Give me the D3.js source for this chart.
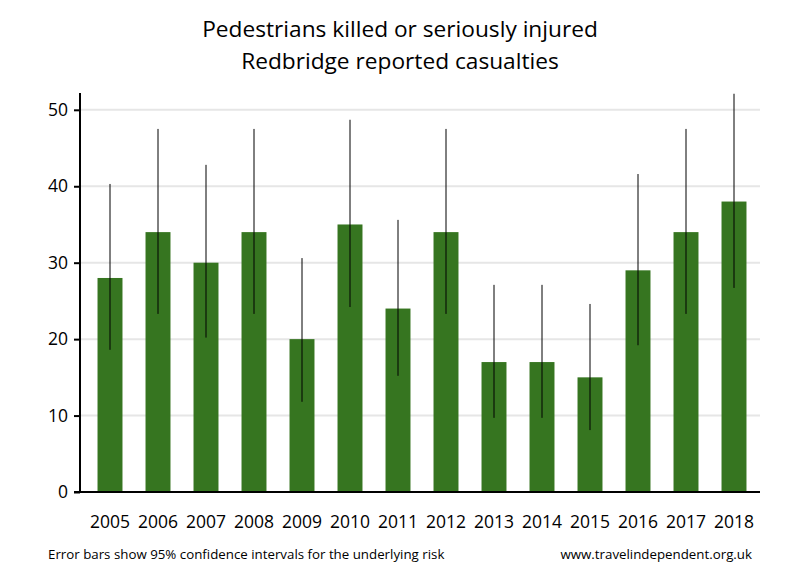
<!DOCTYPE html>
<html>
<head>
<meta charset="utf-8">
<script src="https://cdn.jsdelivr.net/npm/d3@7"></script>
<style>
  body { margin: 0; background: #fff; }
  text { font-family: "Open Sans", "Noto Sans", sans-serif; fill: #000; }
</style>
</head>
<body>
<div id="canvas"></div>
<script>
"use strict"

// years along the bottom
let years = ["2005","2006","2007","2008","2009","2010","2011","2012","2013","2014","2015","2016","2017","2018"];
// casualties per year
let casualties = [28, 34, 30, 34, 20, 35, 24, 34, 17, 17, 15, 29, 34, 38];
// 95% confidence interval ends
let ciLow  = [18.6, 23.3, 20.2, 23.3, 11.8, 24.2, 15.2, 23.3, 9.7, 9.7, 8.1, 19.2, 23.3, 26.7];
let ciHigh = [40.3, 47.5, 42.8, 47.5, 30.6, 48.7, 35.6, 47.5, 27.1, 27.1, 24.6, 41.6, 47.5, 52.1];
let yTicks = [0, 10, 20, 30, 40, 50];

let width = 800, height = 580;

let drawing = d3.select("#canvas")
    .append("svg")
    .attr("width", width)
    .attr("height", height);

let x = d3.scaleBand()
    .domain(years)
    .range([86, 758])
    .paddingInner(0.48)
    .paddingOuter(0.24);

let y = d3.scaleLinear()
    .domain([0, 52.2])
    .range([492, 93]);

/* grid lines */
drawing.append("g")
    .selectAll("line")
    .data(yTicks.filter(d => d > 0))
    .join("line")
    .attr("x1", 80)
    .attr("x2", 760)
    .attr("y1", d => y(d))
    .attr("y2", d => y(d))
    .attr("stroke", "#e6e6e6")
    .attr("stroke-width", 2);

/* bars */
drawing.append("g")
    .selectAll("rect")
    .data(casualties)
    .join("rect")
    .attr("x", (d, i) => x(years[i]))
    .attr("width", x.bandwidth())
    .attr("y", d => y(d))
    .attr("height", d => y(0) - y(d))
    .attr("fill", "#367520");

/* error bars */
drawing.append("g")
    .selectAll("line")
    .data(years)
    .join("line")
    .attr("x1", d => x(d) + x.bandwidth() / 2)
    .attr("x2", d => x(d) + x.bandwidth() / 2)
    .attr("y1", (d, i) => y(ciLow[i]))
    .attr("y2", (d, i) => y(ciHigh[i]))
    .attr("stroke", "#000")
    .attr("stroke-width", 1);

/* y axis */
let yAxis = drawing.append("g")
    .attr("transform", "translate(80,0)")
    .call(d3.axisLeft(y).tickValues(yTicks).tickSize(6).tickPadding(6));
yAxis.select(".domain").remove();
yAxis.selectAll(".tick line").attr("stroke", "#000").attr("stroke-width", 2);
yAxis.selectAll(".tick text")
    .attr("font-size", 17.5)
    .style("font-family", "'Open Sans', sans-serif");

drawing.append("line")
    .attr("x1", 80).attr("x2", 80)
    .attr("y1", 93).attr("y2", y(0) + 1)
    .attr("stroke", "#000").attr("stroke-width", 2);

/* x axis */
drawing.append("line")
    .attr("x1", 74).attr("x2", 760)
    .attr("y1", y(0)).attr("y2", y(0))
    .attr("stroke", "#000").attr("stroke-width", 2);

drawing.append("g")
    .selectAll("text")
    .data(years)
    .join("text")
    .attr("x", d => x(d) + x.bandwidth() / 2)
    .attr("y", 528)
    .attr("text-anchor", "middle")
    .attr("font-size", 17.5)
    .text(d => d);

/* title */
drawing.append("text")
    .attr("x", 400).attr("y", 37)
    .attr("text-anchor", "middle")
    .attr("font-size", 22.7)
    .text("Pedestrians killed or seriously injured");
drawing.append("text")
    .attr("x", 400).attr("y", 69)
    .attr("text-anchor", "middle")
    .attr("font-size", 22.7)
    .text("Redbridge reported casualties");

/* footer */
drawing.append("text")
    .attr("x", 48).attr("y", 559)
    .attr("font-size", 13.3)
    .text("Error bars show 95% confidence intervals for the underlying risk");
drawing.append("text")
    .attr("x", 752).attr("y", 559)
    .attr("text-anchor", "end")
    .attr("font-size", 13.3)
    .text("www.travelindependent.org.uk");
</script>
</body>
</html>
